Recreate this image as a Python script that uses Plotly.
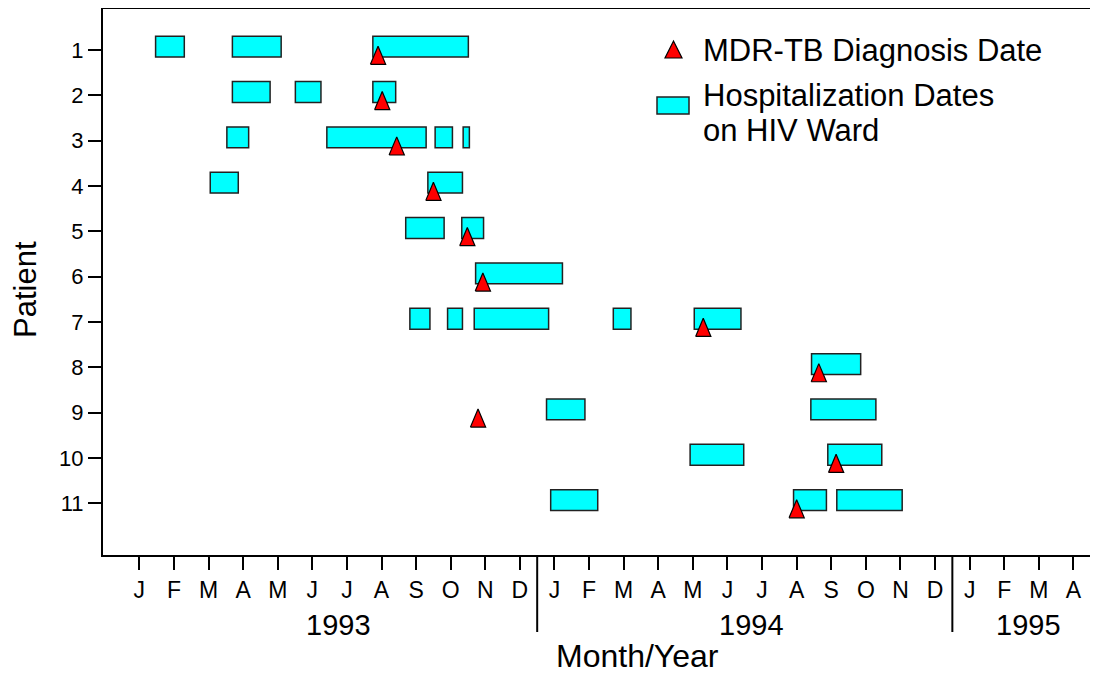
import plotly.graph_objects as go

# ---------------- data (months since 1 Jan 1993) ----------------
patients = list(range(1, 12))

# hospitalization stays on HIV ward: (patient, start, end)
stay_patient = [1, 1, 1,
                2, 2, 2,
                3, 3, 3, 3,
                4, 4,
                5, 5,
                6,
                7, 7, 7, 7, 7,
                8,
                9, 9,
                10, 10,
                11, 11, 11]
stay_start = [0.47, 2.69, 6.75,
              2.69, 4.51, 6.75,
              2.53, 5.42, 8.55, 9.36,
              2.05, 8.34,
              7.70, 9.32,
              9.72,
              7.82, 8.91, 9.68, 13.70, 16.04,
              19.43,
              11.77, 19.41,
              15.92, 19.90,
              11.89, 18.91, 20.16]
stay_end = [1.30, 4.10, 9.51,
            3.78, 5.25, 7.41,
            3.16, 8.29, 9.05, 9.54,
            2.86, 9.34,
            8.81, 9.95,
            12.23,
            8.40, 9.34, 11.83, 14.21, 17.39,
            20.85,
            12.88, 21.29,
            17.47, 21.46,
            13.25, 19.86, 22.05]

# MDR-TB diagnosis date per patient
diag_patient = patients
diag_month = [6.90, 7.02, 7.44, 8.50, 9.48, 9.93, 16.30, 19.64, 9.79, 20.14, 19.00]

month_letters = ["J", "F", "M", "A", "M", "J", "J", "A", "S", "O", "N", "D"] * 2 + ["J", "F", "M", "A"]
years = ["1993", "1994", "1995"]

# ---------------- layout constants ----------------
OFF = 8  # page body margin
W, H = 1098 - OFF, 674 - OFF
L, R, T, B = 103 - OFF, 0, 9 - OFF, 119
PW, PH = W - L - R, H - T - B
FONT = "Liberation Sans, Arial, sans-serif"


def px_x(p):  # reference-page pixel -> paper
    return (p - 103) / PW


def px_y(p):
    return (555 - p) / PH


BAR_SHIFT = -0.07
BAR_W = 0.46
TRI_HALF = 0.22
TRI_TOP = -0.08
TRI_BASE = 0.32

fig = go.Figure()

fig.add_trace(go.Bar(
    orientation="h",
    y=[p + BAR_SHIFT for p in stay_patient],
    base=stay_start,
    x=[e - s for s, e in zip(stay_start, stay_end)],
    width=BAR_W,
    marker=dict(color="#00FFFF", line=dict(color="#222222", width=1.5)),
    showlegend=False,
    hoverinfo="skip",
))

tx, ty = [], []
for p, d in zip(diag_patient, diag_month):
    tx += [d - TRI_HALF, d + TRI_HALF, d, d - TRI_HALF, None]
    ty += [p + TRI_BASE, p + TRI_BASE, p + TRI_TOP, p + TRI_BASE, None]
fig.add_trace(go.Scatter(
    x=tx, y=ty, mode="lines", fill="toself",
    fillcolor="#FF0000", line=dict(color="#000000", width=1.2),
    showlegend=False, hoverinfo="skip",
))

shapes = []
# year separators below the axis
for sep in [11.5, 23.5]:
    shapes.append(dict(type="line", xref="x", yref="paper", x0=sep, x1=sep,
                       y0=0, y1=px_y(632), line=dict(color="black", width=2)))

# legend symbols
lx0, lx1 = px_x(665), px_x(682)
shapes.append(dict(type="path", xref="paper", yref="paper",
                   path=f"M {lx0},{px_y(58)} L {lx1},{px_y(58)} L {(lx0 + lx1) / 2},{px_y(41)} Z",
                   fillcolor="#FF0000", line=dict(color="black", width=1.2)))
shapes.append(dict(type="rect", xref="paper", yref="paper",
                   x0=px_x(657), x1=px_x(689), y0=px_y(114), y1=px_y(97),
                   fillcolor="#00FFFF", line=dict(color="#222222", width=1.5)))

annotations = []
year_centers = [5.75, 17.7, 25.7]
for yr, xc in zip(years, year_centers):
    annotations.append(dict(text=yr, x=xc, xref="x", y=px_y(625), yref="paper",
                            xanchor="center", yanchor="middle", showarrow=False,
                            font=dict(size=29, color="black", family=FONT)))
annotations.append(dict(text="Month/Year", x=px_x(637), xref="paper", y=px_y(656), yref="paper",
                        xanchor="center", yanchor="middle", showarrow=False,
                        font=dict(size=32, color="black", family=FONT)))
annotations.append(dict(text="Patient", x=px_x(25), xref="paper", y=px_y(290), yref="paper",
                        xanchor="center", yanchor="middle", showarrow=False, textangle=-90,
                        font=dict(size=31, color="black", family=FONT)))
for txt, yc in [("MDR-TB Diagnosis Date", 51), ("Hospitalization Dates", 95), ("on HIV Ward", 131)]:
    annotations.append(dict(text=txt, x=px_x(701), xref="paper", y=px_y(yc), yref="paper",
                            xanchor="left", yanchor="middle", showarrow=False,
                            font=dict(size=31, color="black", family=FONT)))

fig.update_layout(
    width=W, height=H,
    margin=dict(l=L, r=R, t=T, b=B),
    paper_bgcolor="white", plot_bgcolor="white",
    font=dict(family=FONT, color="black"),
    barmode="overlay",
    shapes=shapes,
    annotations=annotations,
    xaxis=dict(range=[-1.05, 27.71], tickvals=list(range(len(month_letters))), ticktext=month_letters,
               ticks="outside", ticklen=13, tickwidth=2, tickcolor="black",
               showline=True, linewidth=2, linecolor="black", mirror=True,
               showgrid=False, zeroline=False, tickfont=dict(size=23, color="black", family=FONT)),
    yaxis=dict(range=[12.14, 0.1], tickvals=patients, ticktext=[str(p) for p in patients],
               ticks="outside", ticklen=13, tickwidth=2, tickcolor="black",
               showline=True, linewidth=2, linecolor="black",
               showgrid=False, zeroline=False, tickfont=dict(size=22, color="black", family=FONT)),
)

fig.write_html("out.html")
